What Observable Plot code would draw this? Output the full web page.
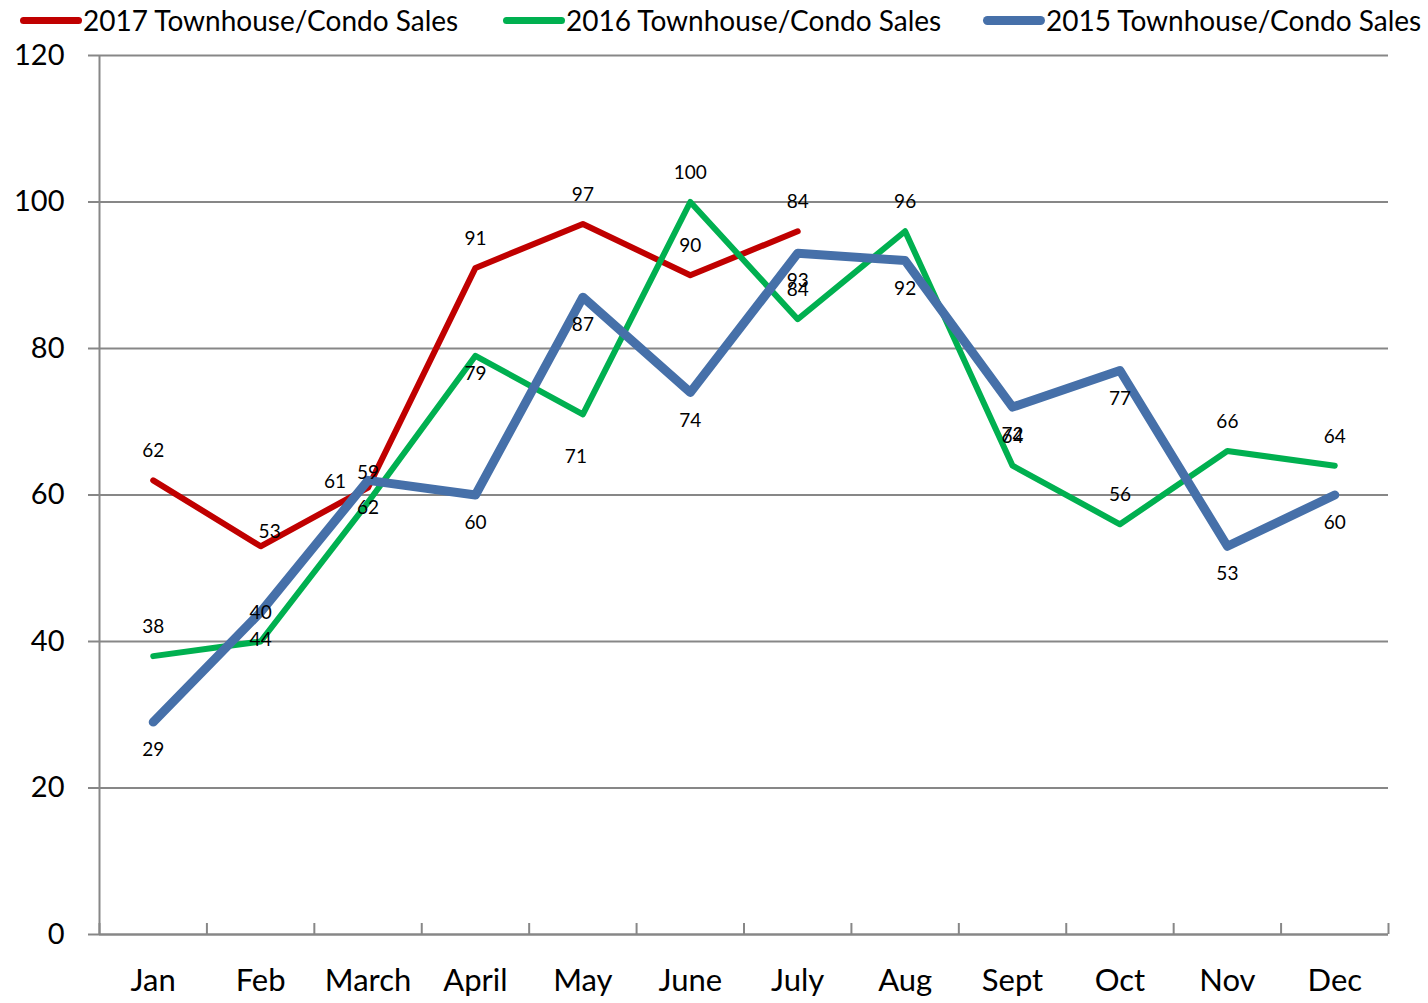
<!DOCTYPE html>
<html>
<head>
<meta charset="utf-8">
<script src="https://cdn.jsdelivr.net/npm/d3@7"></script>
<script src="https://cdn.jsdelivr.net/npm/@observablehq/plot@0.6"></script>
<style>
  body { margin: 0; background: #fff; font-family: Lato, "Open Sans", sans-serif; }
  #wrap { position: relative; width: 1428px; height: 1003px; overflow: hidden; }
  #legend { position: relative; width: 1428px; height: 40px; }
  .item { position: absolute; top: 0; height: 40px; display: flex; align-items: center; font-size: 28px; color: #000; white-space: nowrap; }
  .sw { width: 62px; border-radius: 6px; margin-right: 1px; }
</style>
</head>
<body>
<div id="wrap">
  <div id="legend"></div>
  <div id="chart"></div>
</div>
<script>
// ---- data ----
const months = ["Jan", "Feb", "March", "April", "May", "June", "July", "Aug", "Sept", "Oct", "Nov", "Dec"];
const seriesNames = ["2017 Townhouse/Condo Sales", "2016 Townhouse/Condo Sales", "2015 Townhouse/Condo Sales"];
const sales2017 = [62, 53, 61, 91, 97, 90, 96];
const sales2016 = [38, 40, 59, 79, 71, 100, 84, 96, 64, 56, 66, 64];
const sales2015 = [29, 44, 62, 60, 87, 74, 93, 92, 72, 77, 53, 60];
const labels2017 = ["62", "53", "61", "91", "97", "90", "84"];
const labels2016 = ["38", "40", "59", "79", "71", "100", "84", "96", "64", "56", "66", "64"];
const labels2015 = ["29", "44", "62", "60", "87", "74", "93", "92", "72", "77", "53", "60"];
const yTicks = [0, 20, 40, 60, 80, 100, 120];

// ---- styles ----
const colors = ["#C00000", "#00B050", "#4670A9"];
const widths = [6, 6, 9];
const defaultLabelOffset = [[0, -29], [0, -29], [0, 28]];
const labelNudge = {
  "0-1": [9, -14], "0-2": [-33, -6],
  "1-3": [0, 18], "1-4": [-7, 42]
};

const allValues = [sales2017, sales2016, sales2015];
const allLabels = [labels2017, labels2016, labels2015];
const rows = [];
allValues.forEach((vals, s) => {
  vals.forEach((v, i) => rows.push({s, i, value: v, label: allLabels[s][i]}));
});

// legend
const legend = document.getElementById("legend");
const legendLeft = [20, 503, 983];
seriesNames.forEach((name, s) => {
  const it = document.createElement("div");
  it.className = "item";
  it.style.left = legendLeft[s] + "px";
  const sw = document.createElement("div");
  sw.className = "sw";
  sw.style.height = (s === 2 ? 9 : 7) + "px";
  sw.style.background = colors[s];
  it.appendChild(sw);
  const t = document.createElement("span");
  t.textContent = name;
  it.appendChild(t);
  legend.appendChild(it);
});

// group labels by offset
const groups = new Map();
rows.forEach(r => {
  const off = labelNudge[r.s + "-" + r.i] || defaultLabelOffset[r.s];
  const key = off.join(",");
  if (!groups.has(key)) groups.set(key, {off, data: []});
  groups.get(key).data.push(r);
});

const boundaries = d3.range(0, 13).map(k => k - 0.5);
const font = "Lato, 'Open Sans', sans-serif";

const chart = Plot.plot({
  width: 1428,
  height: 963,
  marginTop: 15,
  marginLeft: 99,
  marginRight: 40,
  marginBottom: 69,
  style: {fontFamily: font, background: "#fff", overflow: "visible"},
  x: {type: "linear", domain: [-0.5, 11.5], axis: null},
  y: {domain: [0, 120], axis: null},
  marks: [
    Plot.gridY(yTicks, {stroke: "#878787", strokeOpacity: 1, strokeWidth: 2}),
    Plot.axisY({ticks: yTicks, tickSize: 11, tickPadding: 24, fontSize: 29, stroke: "#878787", strokeWidth: 2, fill: "#000", label: null}),
    Plot.ruleX([-0.5], {stroke: "#878787", strokeWidth: 2}),
    Plot.ruleY([0], {stroke: "#878787", strokeWidth: 2}),
    Plot.axisX({ticks: boundaries, tickSize: -11, tickFormat: () => "", stroke: "#878787", strokeWidth: 2, label: null}),
    Plot.axisX({ticks: d3.range(12), tickSize: 0, tickPadding: 34, fontSize: 31, fill: "#000", tickFormat: i => months[i], label: null}),
    ...allValues.map((vals, s) =>
      Plot.line(vals.map((v, i) => ({i, v})), {x: "i", y: "v", stroke: colors[s], strokeWidth: widths[s], strokeLinejoin: "round", strokeLinecap: "round"})
    ),
    ...[...groups.values()].map(g =>
      Plot.text(g.data, {x: "i", y: "value", text: "label", dx: g.off[0], dy: g.off[1], fontSize: 19, fill: "#000"})
    )
  ]
});
document.getElementById("chart").appendChild(chart);
</script>
</body>
</html>
